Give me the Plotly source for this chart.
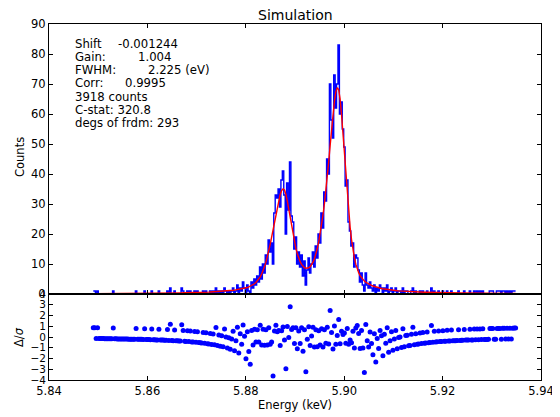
import numpy as np
import plotly.graph_objects as go

# ---- data ----
E_START = 5.849        # keV, centre of first bin
BIN_WIDTH = 0.00029    # keV

counts = [
    1,1,0,1,0,0,0,0,0,0,
    0,0,0,0,1,0,0,0,0,0,
    0,0,0,0,0,0,0,0,0,0,
    1,0,0,0,0,0,1,0,0,0,
    0,1,0,0,0,0,1,0,0,0,
    0,0,1,0,2,0,0,1,0,0,
    0,0,2,1,0,0,1,0,1,0,
    0,1,0,1,0,0,0,1,0,1,
    0,0,1,0,1,0,2,0,1,0,
    1,0,2,1,0,1,0,1,2,0,
    1,3,0,2,1,4,2,0,3,1,
    0,4,2,5,3,6,4,9,5,10,
    7,13,10,18,14,17,10,27,33,32,
    35,29,38,41,33,20,37,28,44,26,
    24,15,19,10,14,9,13,6,11,3,
    8,12,7,10,14,9,16,12,20,17,
    27,22,34,31,45,40,70,58,52,73,
    62,70,83,60,64,55,49,36,38,24,
    21,16,17,9,13,12,8,4,7,3,
    1,7,3,2,4,2,1,3,0,2,
    1,3,2,0,2,1,3,0,1,2,
    0,1,2,0,1,1,0,2,0,1,
    1,0,0,1,2,0,1,0,0,1,
    0,1,0,0,1,0,0,2,0,1,
    0,0,1,0,0,1,0,0,1,0,
    0,1,0,0,0,0,1,0,0,0,
    1,0,0,0,1,0,0,1,0,1,
    0,1,0,1,0,0,0,0,1,1,
    1,0,0,1,1,1,0,1,1,0,
    1,0,1,0,1,1,1,
]

model = [
    .14,.14,.14,.15,.15,.15,.15,.15,.16,.16,
    .16,.16,.16,.17,.17,.17,.17,.18,.18,.18,
    .18,.18,.19,.19,.19,.20,.20,.20,.20,.21,
    .21,.21,.22,.22,.22,.23,.23,.23,.24,.24,
    .25,.25,.26,.26,.27,.27,.28,.28,.29,.29,
    .30,.30,.31,.32,.32,.33,.34,.34,.35,.36,
    .37,.38,.39,.40,.40,.41,.42,.43,.45,.46,
    .47,.48,.49,.51,.52,.54,.55,.57,.59,.60,
    .62,.64,.67,.69,.71,.73,.76,.79,.82,.85,
    .88,.91,.95,.99,1.03,1.08,1.13,1.18,1.24,1.29,
    1.36,1.42,1.49,1.58,1.67,1.77,1.89,2.02,2.16,2.34,
    2.54,2.77,3.05,3.40,3.82,4.33,4.95,5.72,6.64,7.75,
    9.05,10.61,12.36,14.35,16.56,18.95,21.49,24.12,26.74,29.23,
    31.45,33.25,34.47,35.00,34.66,33.24,30.99,28.27,25.34,22.47,
    19.79,17.34,15.20,13.42,11.95,10.78,9.88,9.23,8.80,8.58,
    8.56,8.73,9.11,9.72,10.59,11.76,13.27,15.15,17.41,20.03,
    23.01,26.34,30.07,34.26,38.93,44.05,49.44,54.89,59.99,64.32,
    67.40,68.78,68.11,64.94,59.75,53.34,46.39,39.52,33.09,27.32,
    22.33,18.15,14.75,12.05,9.95,8.32,7.07,6.13,5.37,4.78,
    4.31,3.92,3.60,3.31,3.07,2.85,2.66,2.49,2.33,2.19,
    2.06,1.95,1.84,1.74,1.65,1.57,1.50,1.43,1.36,1.30,
    1.24,1.19,1.14,1.09,1.05,1.01,.97,.93,.90,.87,
    .83,.81,.78,.75,.73,.71,.69,.67,.65,.62,
    .61,.59,.57,.56,.54,.53,.51,.50,.49,.47,
    .46,.45,.44,.43,.42,.41,.40,.39,.38,.38,
    .37,.36,.35,.35,.34,.33,.33,.32,.31,.31,
    .30,.29,.29,.28,.28,.27,.27,.26,.26,.26,
    .25,.25,.24,.24,.23,.23,.23,.22,.22,.22,
    .21,.21,.21,.20,.20,.20,.20,.19,.19,.19,
    .19,.18,.18,.18,.18,.17,.17,
]

fit_labels = ["Shift", "Gain:", "FWHM:", "Corr:", "3918 counts", "C-stat: 320.8", "degs of frdm: 293"]
fit_values = ["-0.001244", "1.004", "2.225 (eV)", "0.9995", "", "", ""]

x_ticks = [5.84, 5.86, 5.88, 5.90, 5.92, 5.94]
y_ticks = [0, 10, 20, 30, 40, 50, 60, 70, 80, 90]
r_ticks = [-4, -3, -2, -1, 0, 1, 2, 3, 4]

n = min(len(counts), len(model))
counts_a = np.array(counts[:n], dtype=float)
model_a = np.array(model[:n], dtype=float)
energy = E_START + BIN_WIDTH * np.arange(n)
resid = (counts_a - model_a) / np.sqrt(np.maximum(counts_a, 1.0))

# ---- geometry: reference pixel coords; page body adds an 8 px margin ----
OFF = 8
W, H = 560 - OFF, 417 - OFF
L, R, T, B = 49 - OFF, 541 - OFF, 24 - OFF, 380 - OFF
SPLIT = 294 - OFF
pw, ph = R - L, B - T
split_paper = (B - SPLIT) / ph

def px(x):  # reference page px -> paper
    return (x - OFF - L) / pw

def py(y):
    return (B - (y - OFF)) / ph

FONT = "DejaVu Sans"
fig = go.Figure()
fig.add_trace(go.Scatter(x=energy, y=counts_a, mode="lines",
                         line=dict(color="#0000ff", width=1.4, shape="hvh"),
                         xaxis="x", yaxis="y", showlegend=False))
fig.add_trace(go.Scatter(x=energy, y=model_a, mode="lines",
                         line=dict(color="#ff0000", width=1.4),
                         xaxis="x", yaxis="y", showlegend=False))
fig.add_trace(go.Scatter(x=energy, y=resid, mode="markers",
                         marker=dict(color="#0000ff", size=5, line=dict(width=0)),
                         xaxis="x2", yaxis="y2", showlegend=False))

ax_common = dict(showline=True, linecolor="black", linewidth=1, mirror="allticks",
                 ticks="inside", ticklen=4, tickcolor="black", tickwidth=1,
                 showgrid=False, zeroline=False)
tf = dict(family=FONT, size=11.5, color="black")
tf_small = dict(family=FONT, size=10.5, color="black")

fig.update_layout(
    width=W, height=H,
    margin=dict(l=L, r=W - R, t=T, b=H - B, autoexpand=False),
    paper_bgcolor="white", plot_bgcolor="white",
    xaxis=dict(domain=[0, 1], anchor="y", range=[5.84, 5.94], tickvals=x_ticks,
               showticklabels=False, tickfont=tf, **ax_common),
    yaxis=dict(domain=[split_paper, 1], anchor="x", range=[0, 90], tickvals=y_ticks,
               tickfont=tf, **ax_common),
    xaxis2=dict(domain=[0, 1], anchor="y2", range=[5.84, 5.94], tickvals=x_ticks,
                ticktext=[f"{v:.2f}" for v in x_ticks], tickfont=tf, **ax_common),
    yaxis2=dict(domain=[0, split_paper], anchor="x2", range=[-4, 4], tickvals=r_ticks,
                tickfont=tf_small, **ax_common),
)

ann = []
ann.append(dict(text="Simulation", x=0.5, y=py(15), xref="paper", yref="paper",
                showarrow=False, xanchor="center", yanchor="middle",
                font=dict(family=FONT, size=14, color="black")))
ann.append(dict(text="Counts", x=px(20), y=py(157), xref="paper", yref="paper",
                showarrow=False, textangle=-90, xanchor="center", yanchor="middle",
                font=dict(family=FONT, size=11.5, color="black")))
ann.append(dict(text="Δ/<i>σ</i>", x=px(19), y=py(337), xref="paper", yref="paper",
                showarrow=False, textangle=-90, xanchor="center", yanchor="middle",
                font=dict(family=FONT, size=11.5, color="black")))
ann.append(dict(text="Energy (keV)", x=0.5, y=py(405), xref="paper", yref="paper",
                showarrow=False, xanchor="center", yanchor="middle",
                font=dict(family=FONT, size=11.5, color="black")))

line_y = [44, 57, 70, 83.3, 96.7, 110, 122.7]
value_x = [116, 136, 146, 123.3, 0, 0, 0]
for lab, val, yy, vx in zip(fit_labels, fit_values, line_y, value_x):
    ann.append(dict(text=lab, x=px(73.3), y=py(yy), xref="paper", yref="paper",
                    showarrow=False, xanchor="left", yanchor="middle",
                    font=dict(family=FONT, size=11.7, color="black")))
    if val:
        ann.append(dict(text=val, x=px(vx), y=py(yy), xref="paper", yref="paper",
                        showarrow=False, xanchor="left", yanchor="middle",
                        font=dict(family=FONT, size=11.7, color="black")))
fig.update_layout(annotations=ann)

fig.write_html("out.html")
